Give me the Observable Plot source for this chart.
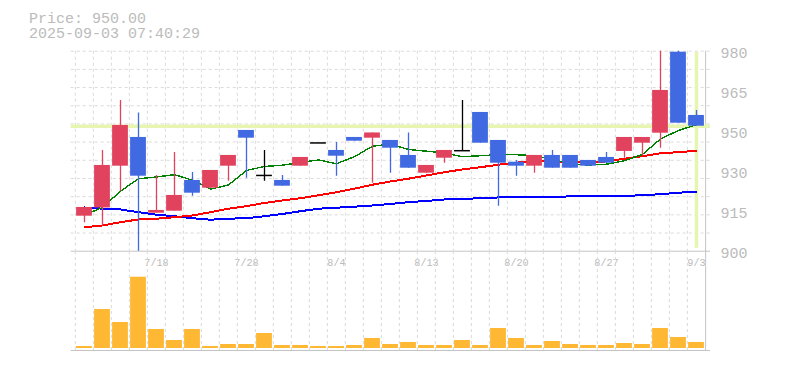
<!DOCTYPE html>
<html><head><meta charset="utf-8">
<script src="https://cdn.jsdelivr.net/npm/d3@7"></script>
<script src="https://cdn.jsdelivr.net/npm/@observablehq/plot@0.6"></script>
<style>
body{margin:0;background:#fff;}
#wrap{position:relative;width:785px;height:370px;overflow:hidden;background:#fff;}
#title{position:absolute;left:29px;top:12px;font:15px/15px "Liberation Mono",monospace;color:#bbb;white-space:pre;}
#price,#vol{position:absolute;left:0;}
#price{top:0}
#vol{top:251px}
</style></head><body>
<div id="wrap"><div id="price"></div><div id="vol"></div><div id="title"></div></div>
<script>
// ---- data ----
const dates = ["7/14","7/15","7/16","7/17","7/18","7/22","7/23","7/24","7/25","7/28",
  "7/29","7/30","7/31","8/1","8/4","8/5","8/6","8/7","8/8","8/13",
  "8/14","8/15","8/18","8/19","8/20","8/21","8/22","8/25","8/26","8/27",
  "8/28","8/29","9/1","9/2","9/3"];
const open  = [914,917.3,934,945.5,915.2,916,928.3,925.2,934,948.3,
  930.3,928.3,934,943.3,940.3,945.5,945.2,944.3,938.3,931.2,
  937.2,940.2,955.5,944.3,935.6,934,938.3,938.3,936.3,937.5,
  939.9,943.2,947.2,979.6,954.3];
const high  = [917.5,940.3,960.3,955.3,930.3,939.5,931.5,932.3,938.3,948.3,
  940.3,930.3,937.5,943.3,943.5,945.5,947.3,944.3,947.3,934.3,
  940.3,960.3,955.5,944.3,936.3,938.3,940.3,938.3,936.3,939.5,
  945.5,945.5,981,981,956.3];
const low   = [911.4,910,924,899,915.2,916,922,925.2,928,929.2,
  928,926,934,943.3,930,944,927.2,931.2,933.2,931.2,
  935.2,940.2,943.2,918,930,931.2,933.2,933.2,934,935.2,
  937.2,938.3,941.2,951.2,950];
const close = [917.5,934.3,950.3,930,916.3,922.3,923.2,932.3,938.3,945.2,
  930.3,926,937.5,943.3,938,944,947.3,941.2,933.2,934.3,
  940.3,940.2,943.2,935.2,934,938.3,933.2,933.2,934,935.2,
  945.5,945.5,964.3,951.2,950];
const volume = [2,39,26,71.3,19,8,19,2,4,4,
  15,3,3,2,2,3,10,4,6,3,
  3,8,3,20,10,3,7,4,3,3,
  5,4,20,11,6];
const ma5  = [914.5,917.5,924,929,929.7,930.6,928.4,924.8,926.5,932.3,
  933.9,934.4,935.5,936.5,935,937.8,942,942.8,940.7,940,
  939.3,937.8,938.2,938.6,938.6,938.2,936.8,934.8,934.5,934.8,
  936.2,938.7,944.9,948.3,950.6];
const ma25 = [909.6,910.3,911.6,912.7,913,913.6,914.3,915.6,917,918,
  919.3,920.3,921.2,922.4,923.6,925,926.6,927.9,929,930.3,
  931.6,932.7,933.6,934.6,935.4,936.2,935.9,935.4,935.6,935.9,
  937,938,939.2,939.6,940.2];
const ma75 = [917.5,917,916.7,915.6,914.6,914,913.2,912.6,913,913.2,
  914,914.9,916,917,917.4,917.8,918.3,918.9,919.6,920.1,
  920.7,920.9,921.2,921.5,921.6,921.6,921.8,921.9,921.9,922,
  922.1,922.4,922.8,923.4,923.8];
const xTicks = ["7/18","7/28","8/4","8/13","8/20","8/27","9/3"];
const yTicks = [900,916,932,948,964,980];
const yTickLabels = ["900","915","930","950","965","980"];
const currentPrice = 950;
const timestamp = "2025-09-03 07:40:29";

// ---- build ----
document.getElementById("title").textContent = "Price: " + currentPrice.toFixed(2) + "\n" + timestamp;

const rows = dates.map((date, i) => ({date, open: open[i], high: high[i], low: low[i], close: close[i],
  volume: volume[i], ma5: ma5[i], ma25: ma25[i], ma75: ma75[i]}));
const RED = "#e1435f", BLUE = "#4169e1";
const colorOf = d => d.close > d.open ? RED : d.close < d.open ? BLUE : "#000";
const W = 785, left = 70.7, right = 75, step = (W - left - right) / dates.length;
const gridColor = "#dadada", gridDash = "3,3", axisColor = "#c4c4c4", hi = "#e6f5b0";
const last = dates[dates.length - 1];
const hGrid = d3.range(11).map(k => 980 - k * 80 / 11);
const crisp = {shapeRendering: "crispEdges"};

const price = Plot.plot({
  width: W, height: 270, marginTop: 50.7, marginBottom: 19.3, marginLeft: left, marginRight: right,
  x: {type: "band", domain: dates, padding: 0},
  y: {domain: [900, 980]},
  style: {background: "transparent", overflow: "visible"},
  marks: [
    Plot.ruleY(hGrid, {stroke: gridColor, strokeDasharray: gridDash}),
    Plot.ruleX(dates, {dx: -step / 2, stroke: gridColor, strokeDasharray: gridDash}),
    Plot.ruleY([900], {stroke: axisColor}),
    Plot.ruleX([last], {dx: step / 2, stroke: axisColor}),
    Plot.ruleY([currentPrice], {stroke: hi, strokeWidth: 3.5}),
    Plot.ruleX([last], {stroke: hi, strokeWidth: 3.5, insetTop: 1, insetBottom: 3}),
    Plot.lineY(rows, {x: "date", y: "ma75", stroke: "#0000ff", strokeWidth: 2, ...crisp}),
    Plot.lineY(rows, {x: "date", y: "ma25", stroke: "#ff0000", strokeWidth: 2, ...crisp}),
    Plot.lineY(rows, {x: "date", y: "ma5", stroke: "#008000", strokeWidth: 1.4, ...crisp}),
    Plot.ruleX(rows, {x: "date", y1: "low", y2: "high", stroke: colorOf, strokeWidth: 1.3, clip: true}),
    Plot.barY(rows.filter(d => d.open !== d.close), {x: "date", y1: "open", y2: "close", fill: colorOf, insetLeft: 1.1, insetRight: 1.1, clip: true}),
    Plot.tickY(rows.filter(d => d.open === d.close), {x: "date", y: "close", stroke: "#000", strokeWidth: 1.5, inset: 1.1}),
    Plot.axisY(yTicks, {anchor: "right", tickSize: 0, tickPadding: 10, tickFormat: d => yTickLabels[yTicks.indexOf(d)],
      fontSize: 15, fontFamily: "Liberation Mono", color: "#bbb", dy: 1.5, label: null}),
    Plot.axisX(xTicks, {anchor: "bottom", tickSize: 0, tickPadding: 7.3, fontSize: 11, fontFamily: "Liberation Mono", color: "#bbb", label: null})
  ]
});
price.querySelectorAll('g[aria-label="x-axis tick label"] text').forEach(t => {
  t.setAttribute("textLength", t.textContent.length * 6.1);
  t.setAttribute("lengthAdjust", "spacingAndGlyphs");
});
document.getElementById("price").append(price);

const vol = Plot.plot({
  width: W, height: 100, marginTop: 0, marginBottom: 3, marginLeft: left, marginRight: right,
  x: {type: "band", domain: dates, padding: 0, axis: null},
  y: {domain: [0, 97], axis: null},
  style: {background: "transparent", overflow: "visible"},
  marks: [
    Plot.ruleX(dates, {dx: -step / 2, stroke: gridColor, strokeDasharray: gridDash, insetBottom: -2}),
    Plot.ruleX([last], {dx: step / 2, stroke: axisColor, insetBottom: -2, insetTop: -1}),
    Plot.ruleY([0], {dy: 2, stroke: axisColor}),
    Plot.barY(rows, {x: "date", y: "volume", fill: "#ffb833", insetLeft: 1.1, insetRight: 1.1})
  ]
});
document.getElementById("vol").append(vol);
</script>
</body></html>
